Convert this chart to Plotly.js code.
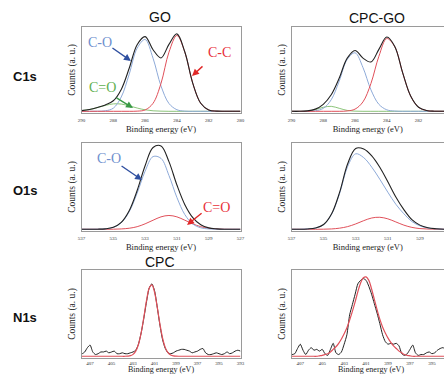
<!DOCTYPE html>
<html><head><meta charset="utf-8">
<script src="https://cdn.plot.ly/plotly-3.0.1.min.js"></script>
<style>html,body{margin:0;padding:0;background:#fff;overflow:hidden}#chart{width:444px;height:374px}</style>
</head><body><div id="chart"></div>
<script>
// ---- Data ----
const c1sEnergy = [290,289.5,289,288.5,288,287.5,287,286.5,286,285.5,285,284.5,284,283.5,283,282.5,282,281.5,281,280.5,280];
const goC1sTotal = [0.008,0.021,0.045,0.076,0.125,0.26,0.51,0.79,0.886,0.73,0.633,0.794,0.919,0.703,0.331,0.095,0.016,0.002,0,0,0];
const goC1sCO    = [0,0,0.001,0.006,0.037,0.17,0.44,0.748,0.852,0.629,0.300,0.093,0.019,0.002,0,0,0,0,0,0,0];
const goC1sCC    = [0,0,0,0,0,0,0,0.002,0.016,0.095,0.331,0.701,0.90,0.701,0.331,0.095,0.016,0.002,0,0,0];
const goC1sCdO   = [0.008,0.021,0.044,0.070,0.088,0.086,0.065,0.039,0.018,0.006,0.002,0,0,0,0,0,0,0,0,0,0];
const cpcgoC1sTotal = [0,0,0.005,0.026,0.083,0.196,0.392,0.628,0.722,0.631,0.585,0.735,0.881,0.769,0.455,0.181,0.048,0.009,0.001,0,0];
const cpcgoC1sCO    = [0,0,0.001,0.006,0.035,0.137,0.356,0.613,0.694,0.519,0.255,0.083,0.018,0.003,0,0,0,0,0,0,0];
const cpcgoC1sCC    = [0,0,0,0,0,0,0,0.004,0.026,0.112,0.330,0.652,0.863,0.766,0.455,0.181,0.048,0.009,0.001,0,0];
const cpcgoC1sCdO   = [0,0,0.004,0.020,0.048,0.059,0.036,0.011,0.002,0,0,0,0,0,0,0,0,0,0,0,0];

const o1sEnergy = [537,536.5,536,535.5,535,534.5,534,533.5,533,532.5,532,531.5,531,530.5,530,529.5,529,528.5,528,527.5,527];
const goO1sTotal = [0,0,0.001,0.005,0.023,0.080,0.215,0.449,0.736,0.948,0.966,0.784,0.513,0.285,0.135,0.052,0.016,0.005,0.001,0,0];
const goO1sCO    = [0,0,0.001,0.005,0.022,0.076,0.203,0.419,0.673,0.843,0.822,0.624,0.369,0.170,0.061,0.017,0.004,0.001,0,0,0];
const goO1sCdO   = [0,0,0,0,0.001,0.004,0.012,0.030,0.063,0.105,0.144,0.160,0.144,0.105,0.063,0.030,0.012,0.004,0.001,0,0];
const cpcgoO1sTotal = [0,0,0.004,0.015,0.055,0.18,0.43,0.76,0.937,0.930,0.851,0.719,0.551,0.375,0.228,0.112,0.048,0.018,0.006,0,0];
const cpcgoO1sCO    = [0,0,0.004,0.015,0.054,0.176,0.417,0.729,0.875,0.83,0.72,0.58,0.43,0.29,0.18,0.09,0.04,0.015,0.005,0,0];
const cpcgoO1sCdO   = [0,0,0,0,0.001,0.004,0.013,0.031,0.062,0.100,0.131,0.139,0.121,0.085,0.048,0.022,0.008,0.003,0.001,0,0];

const n1sEnergy = [408,407.75,407.5,407.25,407,406.75,406.5,406.25,406,405.75,
  405.5,405.25,405,404.75,404.5,404.25,404,403.75,403.5,403.25,
  403,402.75,402.5,402.25,402,401.75,401.5,401.25,401,400.75,
  400.5,400.25,400,399.75,399.5,399.25,399,398.75,398.5,398.25,
  398,397.75,397.5,397.25,397,396.75,396.5,396.25,396,395.75,
  395.5,395.25,395,394.75,394.5,394.25,394,393.75,393.5,393.25,393];
const cpcN1sTotal = [0.06,0.03,0.05,0.10,0.13,0.05,0.02,0.03,0.05,0.05,
  0.06,0.04,0.05,0.06,0.03,0.03,0.04,0.03,0.03,0.04,
  0.05,0.07,0.14,0.27,0.44,0.63,0.79,0.84,0.76,0.57,
  0.36,0.19,0.09,0.04,0.03,0.04,0.06,0.07,0.08,0.08,
  0.07,0.06,0.04,0.05,0.06,0.08,0.09,0.04,0.02,0.02,
  0.03,0.04,0.03,0.02,0.03,0.05,0.03,0.04,0.06,0.07,0.06];
const cpcN1sFit = [0,0,0,0,0,0,0,0,0,0,
  0,0,0,0,0,0,0,0,0.002,0.007,
  0.022,0.060,0.137,0.269,0.450,0.644,0.789,0.828,0.742,0.569,
  0.373,0.209,0.100,0.041,0.014,0.004,0.001,0,0,0,
  0,0,0,0,0,0,0,0,0,0,
  0,0,0,0,0,0,0,0,0,0,0];
const cpcgoN1sTotal = [0.03,0.02,0.03,0.09,0.14,0.07,0.02,0.07,0.10,0.07,
  0.08,0.06,0.08,0.03,0.01,0.08,0.15,0.04,0.02,0.05,
  0.14,0.25,0.48,0.60,0.72,0.84,0.88,0.90,0.88,0.81,
  0.72,0.61,0.50,0.38,0.25,0.17,0.14,0.15,0.14,0.15,
  0.12,0.03,0.01,0.03,0.08,0.13,0.04,0.01,0.02,0.02,
  0.04,0.05,0.03,0.04,0.07,0.09,0.10,0.08,0.06,0.05,0.04];
const cpcgoN1sFit = [0,0,0,0,0,0,0,0,0,0,
  0,0.005,0.01,0.02,0.03,0.05,0.08,0.11,0.15,0.20,
  0.26,0.33,0.42,0.52,0.63,0.75,0.85,0.91,0.92,0.88,
  0.78,0.66,0.54,0.43,0.34,0.27,0.21,0.16,0.12,0.09,
  0.06,0.04,0.02,0.01,0.005,0,0,0,0,0,
  0,0,0,0,0,0,0,0,0,0,0];

const columnTitles = ['GO','CPC-GO','CPC'];
const rowLabels = ['C1s','O1s','N1s'];
const xAxisLabel = 'Binding energy (eV)';
const yAxisLabel = 'Counts (a. u.)';

// ---- Styling ----
const W = 444, H = 374;
const BLACK = '#222222', BLUE = '#8eaad8', RED = '#e0505a', GREEN = '#8cc47a';
const SERIF = 'Liberation Serif, Times New Roman, serif';
const SANS = 'Liberation Sans, Arial, sans-serif';
const px = v => v / W, py = v => 1 - v / H;

function line(x, y, color, w, ax, smooth) {
  return {type:'scatter', mode:'lines', x:x, y:y, xaxis:'x'+ax, yaxis:'y'+ax,
    line:{color:color, width:w, shape:'spline', smoothing:smooth||1}, hoverinfo:'skip'};
}
const traces = [
  line(c1sEnergy, goC1sCdO, GREEN, 1, ''),
  line(c1sEnergy, goC1sCO, BLUE, 1, ''),
  line(c1sEnergy, goC1sCC, RED, 1, ''),
  line(c1sEnergy, goC1sTotal, BLACK, 1.1, ''),
  line(c1sEnergy, cpcgoC1sCdO, GREEN, 1, '2'),
  line(c1sEnergy, cpcgoC1sCO, BLUE, 1, '2'),
  line(c1sEnergy, cpcgoC1sCC, RED, 1, '2'),
  line(c1sEnergy, cpcgoC1sTotal, BLACK, 1.1, '2'),
  line(o1sEnergy, goO1sCdO, RED, 1, '3'),
  line(o1sEnergy, goO1sCO, BLUE, 1, '3'),
  line(o1sEnergy, goO1sTotal, BLACK, 1.1, '3'),
  line(o1sEnergy, cpcgoO1sCdO, RED, 1, '4'),
  line(o1sEnergy, cpcgoO1sCO, BLUE, 1, '4'),
  line(o1sEnergy, cpcgoO1sTotal, BLACK, 1.1, '4'),
  line(n1sEnergy, cpcN1sTotal, BLACK, 1, '5', 0.6),
  line(n1sEnergy, cpcN1sFit, RED, 1.2, '5'),
  line(n1sEnergy, cpcgoN1sTotal, BLACK, 1, '6', 0.6),
  line(n1sEnergy, cpcgoN1sFit, RED, 1.2, '6')
];

const colL = [px(81.5), px(240.5)], colR = [px(291.5), 1];
const row1 = [py(113), py(27)], row2 = [py(231), py(143)], row3 = [py(358), py(270)];

function xax(domain, range, tick0, anchor, showTitle, tlen) {
  return {domain:domain, range:range, tickmode:'linear', tick0:tick0, dtick:2,
    showgrid:false, zeroline:false, showline:true, mirror:true, linecolor:'#9a9a9a', linewidth:1,
    ticks:'outside', ticklen:tlen, tickcolor:'rgba(0,0,0,0)',
    tickfont:{family:SERIF, size:5, color:'#333'},
    title:{text: showTitle ? xAxisLabel : '', font:{family:SERIF, size:8.5, color:'#222'}, standoff:4},
    anchor:anchor, fixedrange:true};
}
function yax(domain, anchor) {
  return {domain:domain, range:[-0.02, 1], showticklabels:false, ticks:'',
    showgrid:false, zeroline:false, showline:true, mirror:true, linecolor:'#9a9a9a', linewidth:1,
    title:{text:yAxisLabel, font:{family:SERIF, size:9.5, color:'#222'}, standoff:3},
    anchor:anchor, fixedrange:true};
}

function label(text, xref, yref, x, y, color, size, family, bold) {
  return {text: bold ? '<b>'+text+'</b>' : text, xref:xref, yref:yref, x:x, y:y,
    showarrow:false, xanchor:'center', yanchor:'middle',
    font:{family:family||SERIF, size:size||14, color:color}};
}
function arrow(xref, yref, x, y, ax, ay, color) {
  return {text:'', xref:xref, yref:yref, x:x, y:y, ax:ax, ay:ay, showarrow:true,
    arrowhead:2, arrowsize:1, arrowwidth:1.4, arrowcolor:color};
}

const annotations = [
  label(columnTitles[0], 'paper', 'paper', px(160), py(17), '#111', 14, SANS),
  label(columnTitles[1], 'paper', 'paper', px(377), py(18), '#111', 14, SANS),
  label(columnTitles[2], 'paper', 'paper', px(160), py(262), '#111', 14, SANS),
  label(rowLabels[0], 'paper', 'paper', px(25), py(77), '#111', 13, SANS, true),
  label(rowLabels[1], 'paper', 'paper', px(25), py(190), '#111', 13, SANS, true),
  label(rowLabels[2], 'paper', 'paper', px(25), py(317), '#111', 13, SANS, true),
  // bottom-row axis titles (annotations, so they can sit close to the page edge)
  label(xAxisLabel, 'paper', 'paper', px(161), py(369.5), '#222', 8),
  label(xAxisLabel, 'paper', 'paper', px(371), py(369.5), '#222', 8),
  // GO C1s
  label('C-O', 'x', 'y', 288.84, 0.822, '#6f8fce', 14),
  arrow('x', 'y', 286.89, 0.597, -20, -14, '#3050a0'),
  label('C-C', 'x', 'y', 281.35, 0.692, '#e8303a', 14),
  arrow('x', 'y', 283.05, 0.419, 12, -11, '#e02828'),
  label('C=O', 'x', 'y', 288.71, 0.277, '#5fb050', 14),
  arrow('x', 'y', 286.76, 0.039, -18, -11, '#3a9a46'),
  // GO O1s
  label('C-O', 'x3', 'y3', 535.27, 0.826, '#6f8fce', 14),
  arrow('x3', 'y3', 533.19, 0.571, -22, -15, '#3050a0'),
  label('C=O', 'x3', 'y3', 528.48, 0.258, '#e8303a', 14),
  arrow('x3', 'y3', 530.36, 0.050, 16, -13, '#e02828')
];

const layout = {
  width:W, height:H, margin:{l:0, r:0, t:0, b:0},
  paper_bgcolor:'#fff', plot_bgcolor:'#fff', showlegend:false, hovermode:false,
  xaxis:  xax(colL, [290, 280], 0, 'y', true, 2),
  yaxis:  yax(row1, 'x'),
  xaxis2: xax(colR, [290, 280.4], 0, 'y2', true, 2),
  yaxis2: yax(row1, 'x2'),
  xaxis3: xax(colL, [537, 527], 1, 'y3', true, 2),
  yaxis3: yax(row2, 'x3'),
  xaxis4: xax(colR, [537, 527.5], 1, 'y4', true, 2),
  yaxis4: yax(row2, 'x4'),
  xaxis5: xax(colL, [407.8, 393], 1, 'y5', false, 0),
  yaxis5: yax(row3, 'x5'),
  xaxis6: xax(colR, [407.8, 393.9], 1, 'y6', false, 0),
  yaxis6: yax(row3, 'x6'),
  annotations: annotations
};

Plotly.newPlot('chart', traces, layout, {staticPlot:true, displayModeBar:false});
</script>
</body></html>
